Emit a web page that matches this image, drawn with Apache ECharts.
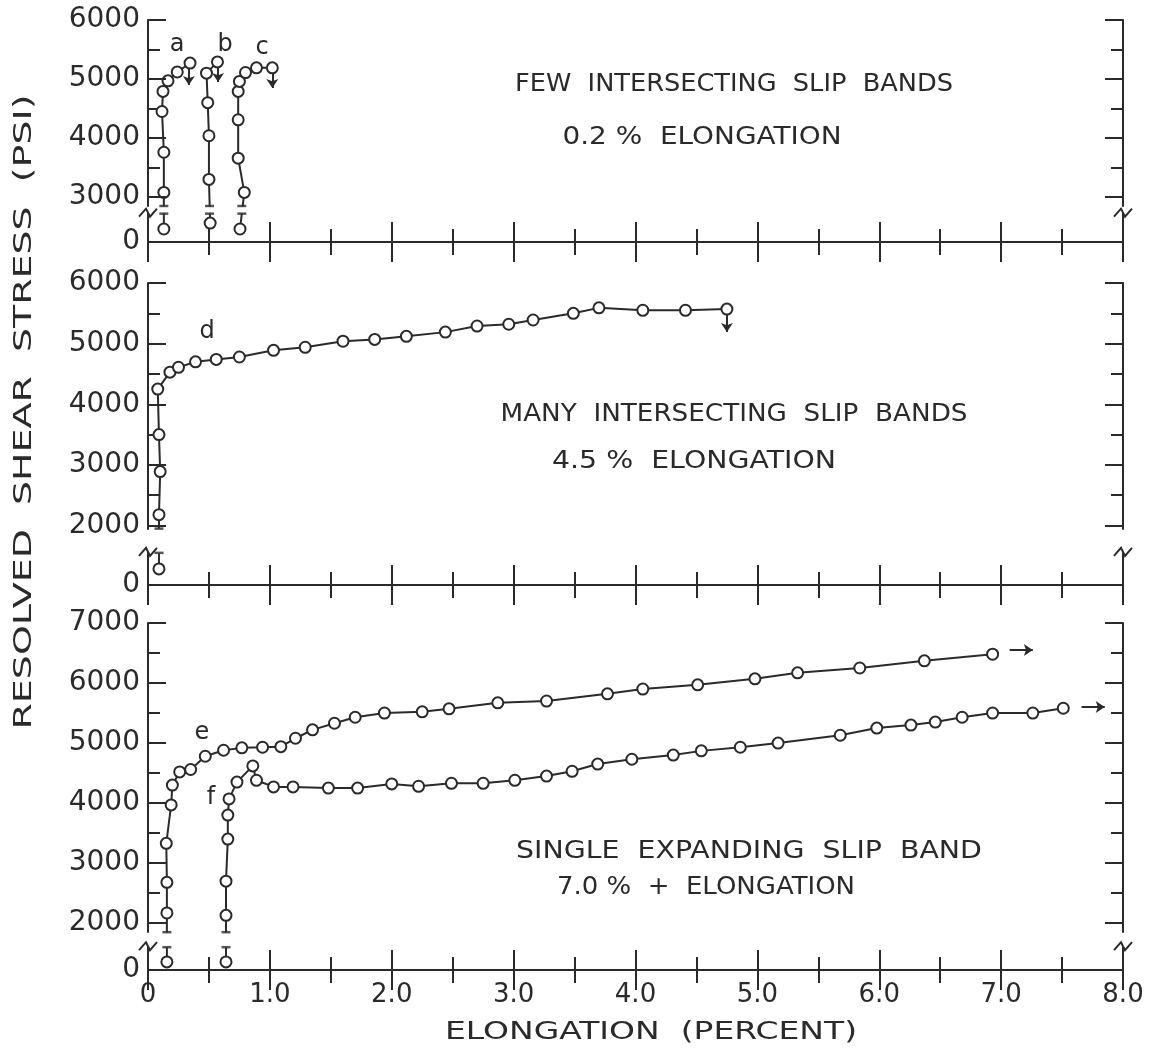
<!DOCTYPE html>
<html>
<head>
<meta charset="utf-8">
<script src="https://cdn.jsdelivr.net/npm/echarts@6/dist/echarts.min.js"></script>
<style>
html, body { margin: 0; padding: 0; background: #fff; }
#chart { width: 1153px; height: 1051px; }
</style>
</head>
<body>
<div id="chart"></div>
<script>
// ---- data (x = elongation %, y = resolved shear stress psi) ----
var curveA = [[0.13,220],[0.13,3080],[0.13,3760],[0.115,4450],[0.123,4790],[0.164,4970],[0.24,5120],[0.345,5270]];
var curveB = [[0.51,320],[0.50,3300],[0.50,4040],[0.49,4600],[0.48,5100],[0.57,5290]];
var curveC = [[0.755,220],[0.79,3080],[0.74,3660],[0.74,4310],[0.74,4790],[0.75,4960],[0.80,5110],[0.89,5190],[1.02,5190]];
var curveD = [[0.09,265],[0.09,2180],[0.10,2890],[0.09,3500],[0.08,4250],[0.18,4530],[0.25,4610],[0.39,4700],[0.56,4740],
              [0.75,4780],[1.03,4890],[1.29,4940],[1.60,5040],[1.86,5070],[2.12,5120],[2.44,5190],[2.70,5290],[2.96,5320],
              [3.16,5390],[3.49,5500],[3.70,5590],[4.06,5550],[4.41,5550],[4.75,5570]];
var curveE = [[0.155,135],[0.155,2170],[0.155,2680],[0.15,3330],[0.19,3970],[0.20,4300],[0.26,4520],[0.35,4560],[0.47,4780],
              [0.62,4880],[0.77,4920],[0.94,4930],[1.09,4940],[1.21,5080],[1.35,5220],[1.53,5330],[1.70,5430],[1.94,5500],
              [2.25,5520],[2.47,5570],[2.87,5670],[3.27,5700],[3.77,5820],[4.06,5900],[4.51,5970],[4.98,6070],[5.33,6170],
              [5.84,6250],[6.37,6370],[6.93,6480]];
var curveF = [[0.64,135],[0.64,2130],[0.64,2700],[0.655,3400],[0.655,3800],[0.665,4070],[0.73,4350],[0.86,4620],[0.89,4380],
              [1.03,4270],[1.19,4270],[1.48,4250],[1.72,4250],[2.00,4320],[2.22,4280],[2.49,4330],[2.75,4330],[3.01,4380],
              [3.27,4450],[3.48,4530],[3.69,4650],[3.97,4730],[4.31,4800],[4.54,4870],[4.86,4930],[5.17,5000],[5.68,5130],
              [5.98,5250],[6.26,5300],[6.46,5350],[6.68,5430],[6.93,5500],[7.26,5500],[7.51,5580]];

// end caps of the vertical lines at the broken part of the axis
var caps1 = [[0.13,480],[0.13,2850],[0.505,480],[0.505,2850],[0.77,480],[0.77,2850]];
var caps2 = [[0.09,530],[0.09,1950]];
var caps3 = [[0.155,380],[0.155,1850],[0.64,380],[0.64,1850]];

// arrows [from, to]
var arrows1 = [[[0.335,5180],[0.335,4900]],[[0.575,5200],[0.575,4950]],[[1.02,5100],[1.02,4850]]];
var arrows2 = [[[4.75,5480],[4.75,5190]]];
var arrows3 = [[[7.07,6550],[7.26,6550]],[[7.66,5600],[7.85,5600]]];

// axes: [max, break start, break end, gap]
var yRange1 = [6000, 480, 2850, 130];
var yRange2 = [6000, 530, 1950, 400];
var yRange3 = [7000, 380, 1850, 250];
var yLabels1 = [0, 3000, 4000, 5000, 6000];
var yLabels2 = [0, 2000, 3000, 4000, 5000, 6000];
var yLabels3 = [0, 2000, 3000, 4000, 5000, 6000, 7000];
var yMinor1 = [3500, 4500, 5500];
var yMinor2 = [2500, 3500, 4500, 5500];
var yMinor3 = [2500, 3500, 4500, 5500, 6500];

var INK = '#2a2a2a';
var FONT = 'DejaVu Sans';

var grids = [
    { left: 148, right: 30, top: 20, height: 222 },
    { left: 148, right: 30, top: 283, height: 302 },
    { left: 148, right: 30, top: 623, height: 347 }
];

var xAxes = [];
var yAxes = [];
var series = [];

function brk(r) {
    return [{ start: r[1], end: r[2], gap: r[3] }];
}

// 4 y axes per grid: left major, left minor, right major, right minor
function addY(g, r, labels, minor) {
    var pos = ['left', 'right'];
    for (var p = 0; p < 2; p++) {
        yAxes.push({
            type: 'value', gridIndex: g, position: pos[p], min: 0, max: r[0], z: 150,
            breaks: brk(r),
            breakArea: { show: false },
            axisLine: { show: true, lineStyle: { color: INK, width: 2 } },
            axisTick: { show: true, inside: true, length: 18, customValues: labels.slice(1), lineStyle: { color: INK, width: 2 } },
            axisLabel: {
                show: p == 0, customValues: labels, color: INK, fontSize: 28, fontFamily: FONT, margin: 8,
                formatter: function (v) { return String(v); }
            },
            splitLine: { show: false }
        });
        // minor ticks; its white break band hides the curves inside the break
        yAxes.push({
            type: 'value', gridIndex: g, position: pos[p], min: 0, max: r[0],
            breaks: brk(r),
            breakArea: { show: p == 0, itemStyle: { color: '#fff', borderWidth: 0, opacity: 1 }, zigzagAmplitude: 0, expandOnClick: false },
            axisLine: { show: false },
            axisTick: { show: true, inside: true, length: 12, customValues: minor, lineStyle: { color: INK, width: 2 } },
            axisLabel: { show: false },
            splitLine: { show: false }
        });
    }
}

function addX(g) {
    var pos = ['bottom', 'top'];
    for (var p = 0; p < 2; p++) {
        xAxes.push({
            type: 'value', gridIndex: g, position: pos[p], min: 0, max: 8, interval: 1, z: 150,
            axisLine: { show: true, lineStyle: { color: INK, width: 2 } },
            axisTick: { show: true, inside: true, length: 20, lineStyle: { color: INK, width: 2 } },
            minorTick: { show: true, splitNumber: 2, length: 13, lineStyle: { color: INK, width: 2 } },
            axisLabel: {
                show: g == 2 && p == 0, color: INK, fontSize: 26, fontFamily: FONT, margin: 12,
                formatter: function (v) { return v == 0 ? '0' : v.toFixed(1); }
            },
            splitLine: { show: false },
            minorSplitLine: { show: false }
        });
    }
}

function addCurve(g, name, data) {
    series.push({
        name: name, type: 'line', xAxisIndex: g * 2, yAxisIndex: g * 4, data: data,
        symbol: 'circle', symbolSize: 11, showSymbol: true,
        itemStyle: { color: '#fff', borderColor: INK, borderWidth: 2 },
        lineStyle: { color: INK, width: 2 },
        z: 5
    });
}

function addMarks(g, caps, arrows) {
    series.push({
        type: 'scatter', xAxisIndex: g * 2, yAxisIndex: g * 4, data: caps,
        symbol: 'rect', symbolSize: [9, 2.5],
        itemStyle: { color: INK }, z: 120,
        markLine: {
            silent: true, symbol: ['none', 'arrow'], symbolSize: 9,
            lineStyle: { color: INK, width: 2, type: 'solid' },
            label: { show: false },
            data: arrows.map(function (a) { return [{ coord: a[0] }, { coord: a[1] }]; })
        }
    });
}

addX(0); addX(1); addX(2);
addY(0, yRange1, yLabels1, yMinor1);
addY(1, yRange2, yLabels2, yMinor2);
addY(2, yRange3, yLabels3, yMinor3);

addCurve(0, 'a', curveA);
addCurve(0, 'b', curveB);
addCurve(0, 'c', curveC);
addCurve(1, 'd', curveD);
addCurve(2, 'e', curveE);
addCurve(2, 'f', curveF);
addMarks(0, caps1, arrows1);
addMarks(1, caps2, arrows2);
addMarks(2, caps3, arrows3);

// the lettering on the original is wide; stretch each text to its span
var measureCtx = document.createElement('canvas').getContext('2d');
function txt(x, y, s, size, width, rot) {
    var font = size + 'px "' + FONT + '"';
    var sx = 1;
    if (width) {
        measureCtx.font = font;
        sx = width / measureCtx.measureText(s).width;
    }
    return {
        type: 'text', x: x, y: y, z: 200, scaleX: sx, rotation: rot || 0,
        style: { text: s, fill: INK, font: font, textAlign: 'center', textVerticalAlign: 'middle' }
    };
}

var texts = [
    txt(734, 85, 'FEW  INTERSECTING  SLIP  BANDS', 24, 438),
    txt(702, 138, '0.2 %  ELONGATION', 24, 279),
    txt(734, 415, 'MANY  INTERSECTING  SLIP  BANDS', 24, 467),
    txt(694, 462, '4.5 %  ELONGATION', 24, 284),
    txt(749, 852, 'SINGLE  EXPANDING  SLIP  BAND', 24, 466),
    txt(706, 888, '7.0 %  +  ELONGATION', 24, 298),
    txt(177, 45, 'a', 24), txt(225, 45, 'b', 24), txt(262, 48, 'c', 24),
    txt(207, 332, 'd', 24), txt(202, 733, 'e', 24), txt(211, 798, 'f', 24),
    txt(651, 1033, 'ELONGATION  (PERCENT)', 24, 412),
    txt(24, 412, 'RESOLVED  SHEAR  STRESS  (PSI)', 25, 635, Math.PI / 2)
];

var chart = echarts.init(document.getElementById('chart'));
chart.setOption({
    backgroundColor: '#fff',
    animation: false,
    grid: grids,
    xAxis: xAxes,
    yAxis: yAxes,
    series: series,
    graphic: texts
});

// small zigzag break marks across the left and right frame lines
var ranges = [yRange1, yRange2, yRange3];
var marks = [];
for (var g = 0; g < 3; g++) {
    var y = chart.convertToPixel({ yAxisIndex: g * 4 }, ranges[g][1]) - 1;
    var sides = [148, 1123];
    for (var s = 0; s < 2; s++) {
        var cx = sides[s];
        marks.push({
            type: 'polyline', z: 210,
            shape: { points: [[cx - 9, y + 4], [cx - 2, y - 4], [cx + 2, y + 4], [cx + 9, y - 4]] },
            style: { stroke: INK, lineWidth: 2, fill: null }
        });
    }
}
chart.setOption({ graphic: texts.concat(marks) });
</script>
</body>
</html>
